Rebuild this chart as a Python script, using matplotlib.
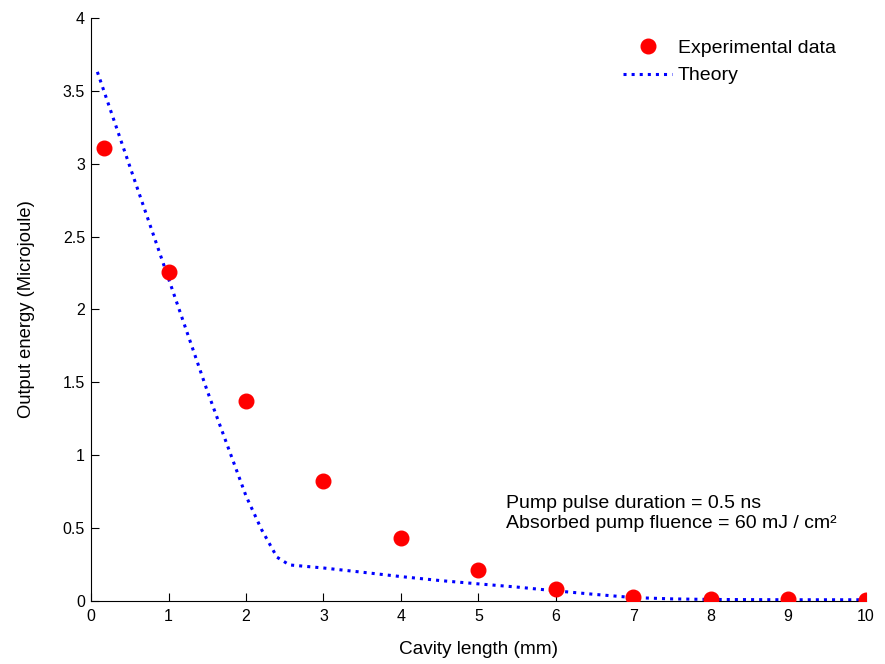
import matplotlib
matplotlib.use('Agg')
import matplotlib.pyplot as plt
from matplotlib.ticker import FormatStrFormatter
import numpy as np

plt.rcParams['font.family'] = ['Liberation Sans', 'DejaVu Sans']

# experimental data
exp_x = [0.17, 1, 2, 3, 4, 5, 6, 7, 8, 9, 10]
exp_y = [3.11, 2.26, 1.37, 0.825, 0.43, 0.21, 0.08, 0.03, 0.015, 0.01, 0.005]

# theory curve
th_x = [0.08, 0.5, 1, 1.5, 2, 2.2, 2.4, 2.56, 3, 3.5, 4, 4.5, 5, 5.5, 6, 6.5, 7, 7.5, 8, 9, 10]
th_y = [3.63, 2.98, 2.21, 1.44, 0.72, 0.49, 0.30, 0.247, 0.226, 0.197, 0.167, 0.14, 0.117, 0.095,
        0.069, 0.045, 0.023, 0.014, 0.01, 0.008, 0.008]

fig = plt.figure(figsize=(8.85, 6.64), dpi=100)
ax = fig.add_axes([0.103, 0.095, 0.875, 0.878])

ax.plot(exp_x, exp_y, 'o', color='red', markersize=10.5, label='Experimental data', zorder=3)
ax.plot(th_x, th_y, ':', color='blue', linewidth=2.2, label='Theory', zorder=2)

ax.set_xlim(0, 10)
ax.set_ylim(0, 4)
ax.set_xticks(range(0, 11))
ax.set_yticks(np.arange(0, 4.01, 0.5))
ax.yaxis.set_major_formatter(FormatStrFormatter('%g'))
ax.tick_params(direction='in', length=6, labelsize=11.5)
ax.tick_params(axis='x', pad=6)
ax.tick_params(axis='y', pad=4.5)
ax.spines['top'].set_visible(False)
ax.spines['right'].set_visible(False)

ax.set_xlabel('Cavity length (mm)', fontsize=13.7, labelpad=12)
ax.set_ylabel('Output energy (Microjoule)', fontsize=13.2, labelpad=20)

ax.text(5.36, 0.60, 'Pump pulse duration = 0.5 ns\nAbsorbed pump fluence = 60 mJ / cm²',
        fontsize=14, va='center', ha='left', linespacing=1.2)

ax.legend(loc='upper right', bbox_to_anchor=(0.984, 0.993), frameon=False, fontsize=14,
          handlelength=2.5, handletextpad=0.3, labelspacing=0.5)

fig.savefig('out.png', dpi=100)
